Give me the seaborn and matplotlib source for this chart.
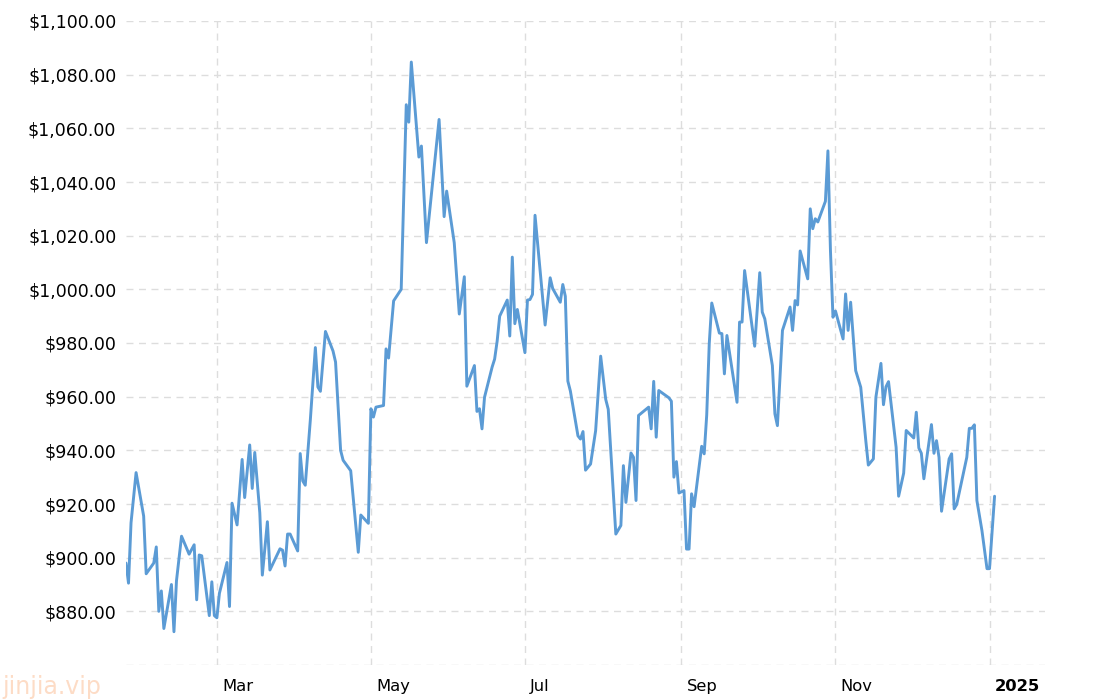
import seaborn as sns
import pandas as pd
import matplotlib
matplotlib.use("Agg")
import matplotlib.pyplot as plt
from matplotlib.ticker import FuncFormatter
from matplotlib.transforms import ScaledTranslation

# days counted from 2024-01-01, price in USD
day_offsets = [24, 25, 26, 28, 31, 32, 35, 36, 37, 38, 39, 42, 43, 44, 46, 49, 51, 52, 53, 54,
               57, 58, 59, 60, 61, 64, 65, 66, 68, 70, 71, 73,
               74, 75, 77, 78, 80, 81, 85, 86, 87, 88, 89, 92, 93, 94, 95, 97, 99, 100, 101, 103,
               106, 107, 109, 110, 113, 116, 117, 120,
               121, 122, 123, 126, 127, 128, 130, 133, 135, 136, 137, 140, 141, 143, 148, 150, 151,
               154, 156, 158, 159, 162, 163, 164, 165, 166, 169, 170,
               171, 172, 175, 176, 177, 178, 179, 182, 183, 184, 185, 186, 190, 192, 193, 196, 197,
               198, 199, 200, 203, 204, 205, 206, 208, 210, 212, 214, 215, 218, 220, 221, 222,
               224, 225, 226, 227, 231, 232, 233, 234, 235, 239, 240, 241, 242, 243, 245, 246, 247,
               248, 249, 252, 253, 254, 255, 256, 259, 260, 261, 262, 266, 267, 268, 269,
               273, 275, 276, 277, 280, 281, 282, 284, 287, 288, 289, 290, 291, 294, 295, 296, 297,
               298, 301, 302, 303, 304, 305, 308, 309, 310, 311, 313, 315, 317, 318, 320,
               321, 323, 324, 325, 326, 329, 330, 332, 333, 336, 337, 338, 339, 340, 343, 344, 345,
               346, 347, 350, 351, 352, 353, 357, 358, 359, 360, 361, 363, 365, 366, 368]
prices = [898, 890.5, 913, 931.7, 915.5, 894, 898, 904, 880, 887.6, 873.6, 890, 872.4, 891.4,
          908, 901.3, 904.8, 884.3, 901, 900.7, 878.4, 891, 878.4, 877.6, 886.7, 898.2, 881.8,
          920.3, 912.2, 936.6, 922.4, 942,
          925.8, 939.2, 916.7, 893.5, 913.4, 895.4, 903.3, 902.8, 896.9, 908.8, 908.8, 902.5,
          938.8, 928.6, 927, 951.2, 978.3, 963.6, 962, 984.3, 977, 972.9, 940, 936.3, 932.4,
          902, 915.9, 912.8,
          955.5, 952.4, 956.1, 956.7, 977.8, 974.4, 995.7, 1000, 1068.8, 1062.3, 1084.7, 1049.3,
          1053.4, 1017.4, 1063.3, 1027.1, 1036.6, 1017.4, 990.8, 1004.7, 963.9, 971.6, 954.5,
          955.5, 948, 959.8, 971, 974,
          980.7, 990, 996, 982.6, 1012, 987.2, 992.5, 976.4, 996, 996.2, 998.1, 1027.6, 986.7,
          1004.3, 1000.3, 995.2, 1001.8, 997.4, 965.8, 962.1, 945.4, 944.2, 947, 932.6, 934.9,
          947.3, 975.1, 959, 955.3, 908.8, 912, 934.3, 920.6,
          939, 937.4, 921.3, 953, 956.1, 948, 965.7, 944.9, 962.3, 959.6, 958.3, 930, 935.8,
          924.1, 925, 903.2, 903.2, 923.8, 919, 941.5, 938.7, 953.2, 979.7, 994.9, 983.7, 983.5,
          968.5, 982.8, 957.9, 987.8, 987.8, 1007,
          978.8, 1006.2, 991.5, 989, 971.6, 953.6, 949.2, 984.7, 993.4, 984.7, 995.8, 994.2,
          1014.3, 1003.9, 1030, 1022.6, 1026.3, 1025.1, 1032.8, 1051.6, 1014.5, 989.6, 991.9,
          981.5, 998.3, 984.7, 995.2, 969.7, 963.5, 943.6, 934.5, 936.8,
          959.8, 972.4, 957, 963.7, 965.6, 941.2, 922.9, 931.5, 947.4, 944.6, 954.2, 940.9,
          938.9, 929.4, 949.6, 938.9, 943.6, 937.4, 917.3, 936.8, 938.7, 918.2, 919.8, 937.4,
          948.2, 948.2, 949.5, 921.3, 910.1, 895.9, 895.9, 922.9]

tick_dates = ["2024-03-01", "2024-05-01", "2024-07-01", "2024-09-01", "2024-11-01", "2025-01-01"]
tick_labels = ["Mar", "May", "Jul", "Sep", "Nov", "2025"]
price_ticks = list(range(860, 1101, 20))

base = pd.Timestamp("2024-01-01")
df = pd.DataFrame({"date": base + pd.to_timedelta(day_offsets, unit="D"), "price": prices})

sns.set_style("white")
plt.rcParams["font.family"] = ["DejaVu Sans"]

fig = plt.figure(figsize=(11.1, 7.0), dpi=100)
ax = fig.add_axes([0.1135, 0.05, 0.828, 0.92])

sns.lineplot(data=df, x="date", y="price", ax=ax, color="#5b9bd5", linewidth=2.1, estimator=None)

ax.set_ylim(860, 1100)
ax.set_yticks(price_ticks)
ax.yaxis.set_major_formatter(FuncFormatter(lambda v, p: "" if v < 870 else f"${v:,.2f}"))
ax.set_xlim(base + pd.Timedelta(days=24), base + pd.Timedelta(days=388))
ax.set_xticks(pd.to_datetime(tick_dates))
ax.set_xticklabels(tick_labels)
ax.set_xlabel("")
ax.set_ylabel("")

ax.grid(True, color="#dddddd", linestyle=(0, (5, 4)), linewidth=1)
sns.despine(ax=ax, left=True, bottom=True, top=True, right=True)
ax.tick_params(length=0, colors="black")
ax.tick_params(axis="y", pad=7, labelsize=12.5)
ax.tick_params(axis="x", pad=10, labelsize=11.8)

shift = ScaledTranslation(5 / 100, 0, fig.dpi_scale_trans)
for lbl in ax.get_xticklabels():
    lbl.set_ha("left")
    lbl.set_transform(lbl.get_transform() + shift)
ax.get_xticklabels()[-1].set_fontweight("bold")

fig.text(0.002, 0.008, "jinjia.vip", color="#fddcc6", fontsize=17)

fig.savefig("out.png", dpi=100)
